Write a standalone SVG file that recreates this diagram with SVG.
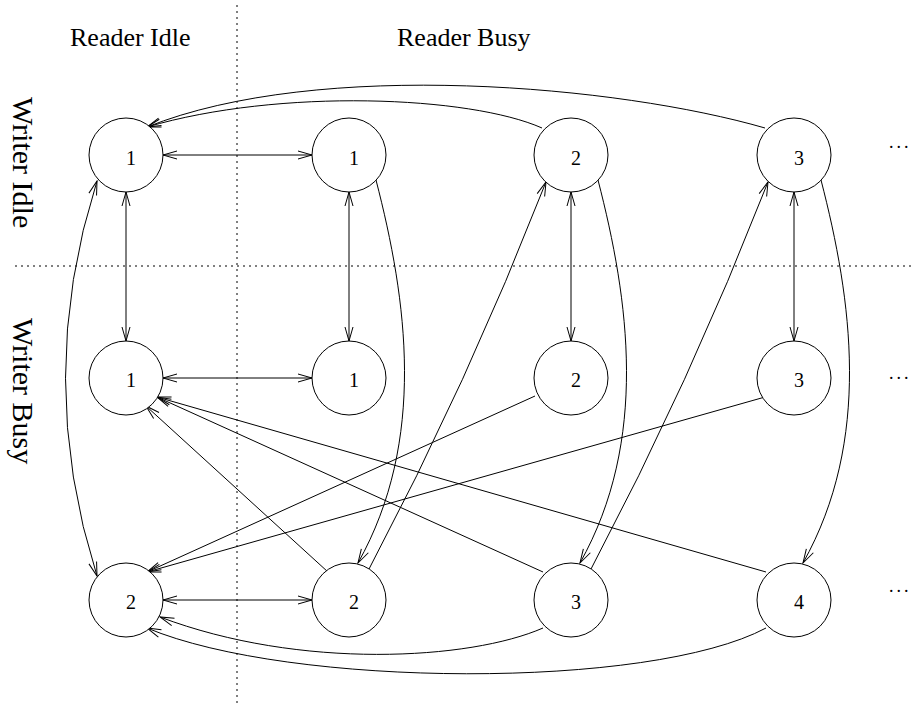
<svg xmlns="http://www.w3.org/2000/svg" width="913" height="711" viewBox="0 0 913 711">
<style>
.n circle{fill:#fff;stroke:#000;stroke-width:1}
.n text{font-family:"Liberation Serif","Times New Roman",serif;font-size:20px;text-anchor:middle;fill:#000}
.lbl{font-family:"Liberation Serif","Times New Roman",serif;font-size:26px;fill:#000}
.vlbl{font-family:"Liberation Serif","Times New Roman",serif;font-size:30px;fill:#000}
.dots{font-family:"Liberation Serif","Times New Roman",serif;font-size:18px;letter-spacing:3px;fill:#000}
.grid{stroke:#000;stroke-width:1;stroke-dasharray:2 4;fill:none}
#edges path{fill:none;stroke:#000;stroke-width:1}
.e{marker-end:url(#ah)}
.d{marker-start:url(#ah);marker-end:url(#ah)}
</style>
<defs>
<marker id="ah" viewBox="0 0 16 10" refX="15" refY="5" markerWidth="16" markerHeight="10" markerUnits="userSpaceOnUse" orient="auto-start-reverse">
<path d="M1,1 L15,5 L1,9" fill="none" stroke="#000" stroke-width="1"/>
</marker>
</defs>
<rect width="913" height="711" fill="#fff"/>
<g id="dividers">
<line class="grid" x1="237" y1="5" x2="237" y2="706"/>
<line class="grid" x1="15" y1="266" x2="913" y2="266"/>
</g>
<g id="labels">
<text class="lbl" x="70" y="46">Reader Idle</text>
<text class="lbl" x="397" y="46">Reader Busy</text>
<text class="vlbl" transform="translate(13,97) rotate(90)">Writer Idle</text>
<text class="vlbl" transform="translate(13,318) rotate(90)">Writer Busy</text>
<text class="dots" x="889" y="148">...</text>
<text class="dots" x="889" y="379">...</text>
<text class="dots" x="889" y="592">...</text>
</g>
<g id="edges">
<path class="d" d="M163,155 H312"/>
<path class="d" d="M163,378 H312"/>
<path class="d" d="M163,600 H312"/>
<path class="d" d="M126,192 V341"/>
<path class="d" d="M349,192 V341"/>
<path class="d" d="M571,192 V341"/>
<path class="d" d="M794,192 V341"/>
<path class="d" d="M97,181 Q34,378 97,576"/>
<path class="e" d="M376,180 C407,300 427,440 358,563"/>
<path class="e" d="M598,180 C629,300 649,440 580,563"/>
<path class="e" d="M821,180 C852,300 872,440 803,563"/>
<path class="e" d="M368,571 Q468,382 546,182"/>
<path class="e" d="M590,571 Q690,382 768,182"/>
<path class="e" d="M542,128 C470,96 280,88 147,127"/>
<path class="e" d="M765,128 C620,86 320,58 147,127"/>
<path class="e" d="M535,396 L147,572"/>
<path class="e" d="M765,397 L147,572"/>
<path class="e" d="M328,572 L146,406"/>
<path class="e" d="M543,572 L157,397"/>
<path class="e" d="M766,572 L157,397"/>
<path class="e" d="M543,628 C470,660 300,670 160,617"/>
<path class="e" d="M766,628 C650,690 290,688 147,628"/>
</g>
<g id="n11" class="n"><circle cx="126" cy="155" r="37"/><text x="131" y="165">1</text></g>
<g id="n12" class="n"><circle cx="349" cy="155" r="37"/><text x="354" y="165">1</text></g>
<g id="n13" class="n"><circle cx="571" cy="155" r="37"/><text x="576" y="165">2</text></g>
<g id="n14" class="n"><circle cx="794" cy="155" r="37"/><text x="799" y="165">3</text></g>
<g id="n21" class="n"><circle cx="126" cy="378" r="37"/><text x="131" y="387">1</text></g>
<g id="n22" class="n"><circle cx="349" cy="378" r="37"/><text x="354" y="387">1</text></g>
<g id="n23" class="n"><circle cx="571" cy="378" r="37"/><text x="576" y="387">2</text></g>
<g id="n24" class="n"><circle cx="794" cy="378" r="37"/><text x="799" y="387">3</text></g>
<g id="n31" class="n"><circle cx="126" cy="600" r="37"/><text x="131" y="609">2</text></g>
<g id="n32" class="n"><circle cx="349" cy="600" r="37"/><text x="354" y="609">2</text></g>
<g id="n33" class="n"><circle cx="571" cy="600" r="37"/><text x="576" y="609">3</text></g>
<g id="n34" class="n"><circle cx="794" cy="600" r="37"/><text x="799" y="609">4</text></g>
</svg>
